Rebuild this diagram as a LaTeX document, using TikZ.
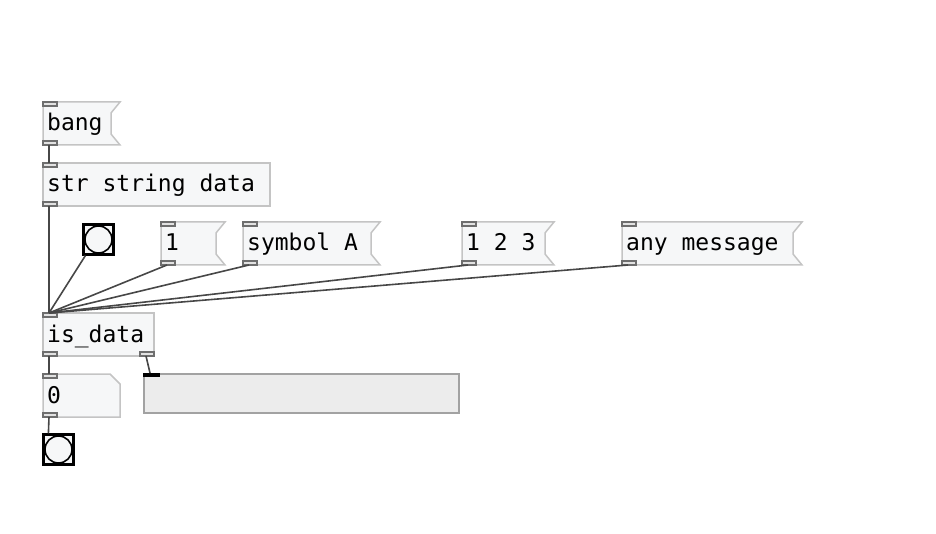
\documentclass[tikz,border=0pt]{standalone}
\usepackage{fontspec}
\setmonofont{DejaVu Sans Mono}
\usepackage{tikz}
\definecolor{boxfill}{HTML}{F6F7F8}
\definecolor{boxline}{HTML}{C4C4C4}
\definecolor{portline}{HTML}{6E6E6E}
\definecolor{portfill}{HTML}{E2E2E2}
\definecolor{wirecol}{HTML}{474747}
\definecolor{arrfill}{HTML}{ECECEC}
\definecolor{arrline}{HTML}{A2A2A2}
% pd boxes: name, x, y, width, text
\newcommand\msgbox[5]{
  \draw[msg] (#2,#3) -- (#2+#4,#3) -- (#2+#4-9,#3+11) -- (#2+#4-9,#3+32) -- (#2+#4,#3+43) -- (#2,#3+43) -- cycle;
  \node[txt] (#1) at (#2+4,#3+29) {#5};
  \draw[port] (#2,#3) rectangle (#2+14,#3+4);
  \draw[port] (#2,#3+39) rectangle (#2+14,#3+43);
  \coordinate (#1 out) at (#2+6,#3+43);
}
\newcommand\objbox[5]{
  \draw[msg] (#2,#3) rectangle (#2+#4,#3+43);
  \node[txt] (#1) at (#2+4,#3+29) {#5};
  \draw[port] (#2,#3) rectangle (#2+14,#3+4);
  \draw[port] (#2,#3+39) rectangle (#2+14,#3+43);
  \coordinate (#1 in) at (#2+6,#3);
  \coordinate (#1 out) at (#2+6,#3+43);
}

\begin{document}
\begin{tikzpicture}[x=1pt, y=-1pt,
  txt/.style = {anchor=base west, inner sep=0, font=\ttfamily\fontsize{23}{23}\selectfont},
  msg/.style = {draw=boxline, fill=boxfill, line width=1.5pt, line join=miter},
  port/.style = {draw=portline, fill=portfill, line width=1.3pt},
  bng/.style = {draw=black, fill=boxfill, line width=2.2pt, minimum size=30pt, inner sep=0},
  wire/.style = {draw=wirecol, line width=1.6pt}]
	\useasboundingbox (0,0) rectangle (936,534);
	\msgbox{bang}{43}{102}{77}{bang}
	\objbox{str}{43}{163}{227}{str string data}
	\node[bng] (bngA) at (98.5,239.5){};
	\draw[line width=1.6pt] (bngA) circle (13.5pt);
	\msgbox{one}{161}{222}{64}{1}
	\msgbox{symA}{243}{222}{137}{symbol A}
	\msgbox{nums}{462}{222}{92}{1 2 3}
	\msgbox{anymsg}{622}{222}{180}{any message}
	\objbox{isdata}{43}{313}{111}{is\_data}
	\draw[port] (140,352) rectangle (154,356);
	\coordinate (isdata right) at (146,356);
	% number box
	\draw[msg] (43,374) -- (110,374) -- (120,384) -- (120,417) -- (43,417) -- cycle;
	\node[txt] (zero) at (47,403) {0};
	\draw[port] (43,374) rectangle (57,378);
	\draw[port] (43,413) rectangle (57,417);
	\coordinate (zero in) at (49,374);
	\coordinate (zero out) at (49,417);
	\node[bng] (bngB) at (58.5,449.5){};
	\draw[line width=1.6pt] (bngB) circle (13.5pt);
	% display
	\node[draw=arrline, fill=arrfill, line width=1.5pt, anchor=north west, minimum width=315pt, minimum height=39pt] (disp) at (143,373){};
	\fill (143,373) rectangle (160,377);
	\coordinate (disp in) at (150,373);
	\draw[wire] (bang out) -- (str in);
	\draw[wire] (str out) -- (isdata in);
	\draw[wire] ([xshift=3pt]bngA.south west) -- (isdata in);
	\draw[wire] (one out) -- (isdata in);
	\draw[wire] (symA out) -- (isdata in);
	\draw[wire] (nums out) -- (isdata in);
	\draw[wire] (anymsg out) -- (isdata in);
	\draw[wire] (isdata out) -- (zero in);
	\draw[wire] (zero out) -- ([xshift=6pt]bngB.north west);
	\draw[wire] (isdata right) -- (disp in);
\end{tikzpicture}
\end{document}
